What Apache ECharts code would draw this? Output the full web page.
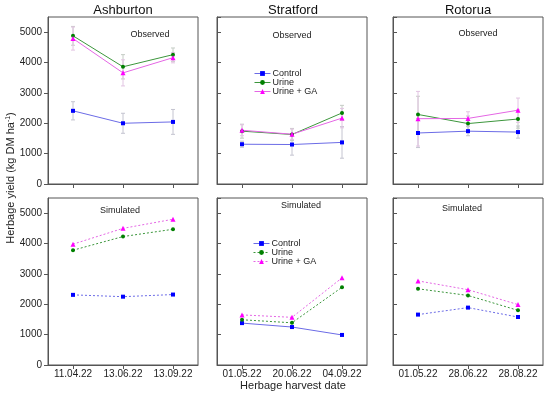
<!DOCTYPE html>
<html><head><meta charset="utf-8">
<script src="https://cdn.jsdelivr.net/npm/echarts@6/dist/echarts.min.js"></script>
<style>html,body{margin:0;padding:0;background:#fff}#c{width:550px;height:393px}</style>
</head><body><div id="c"></div>
<script>
// ---- data ----
var sites = ['Ashburton', 'Stratford', 'Rotorua'];
var ashCats = ['11.04.22', '13.06.22', '13.09.22'];
var strCats = ['01.05.22', '20.06.22', '04.09.22'];
var rotCats = ['01.05.22', '28.06.22', '28.08.22'];
var yTicks = [0, 1000, 2000, 3000, 4000, 5000];
var seriesNames = ['Control', 'Urine', 'Urine + GA'];

// Observed (mean, error)
var ashObsControl = [2410, 2000, 2045];  var ashObsControlErr = [300, 330, 410];
var ashObsUrine   = [4880, 3860, 4260];  var ashObsUrineErr   = [310, 400, 220];
var ashObsGA      = [4790, 3660, 4160];  var ashObsGAErr      = [380, 430, 170];
var strObsControl = [1310, 1300, 1370];  var strObsControlErr = [100, 350, 520];
var strObsUrine   = [1740, 1630, 2340];  var strObsUrineErr   = [230, 200, 250];
var strObsGA      = [1770, 1640, 2170];  var strObsGAErr      = [180, 170, 320];
var rotObsControl = [1680, 1740, 1710];  var rotObsControlErr = [480, 150, 200];
var rotObsUrine   = [2290, 1990, 2140];  var rotObsUrineErr   = [600, 250, 300];
var rotObsGA      = [2150, 2160, 2430];  var rotObsGAErr      = [900, 220, 400];

// Simulated
var ashSimControl = [2310, 2250, 2320];
var ashSimUrine   = [3780, 4230, 4470];
var ashSimGA      = [3980, 4500, 4800];
var strSimControl = [1380, 1250, 990];
var strSimUrine   = [1490, 1390, 2560];
var strSimGA      = [1650, 1570, 2870];
var rotSimControl = [1660, 1890, 1580];
var rotSimUrine   = [2510, 2290, 1800];
var rotSimGA      = [2770, 2480, 1990];

// ---- styling ----
var FONT = 'Liberation Sans, Arial, sans-serif';
var markerColors = ['#0000ff', '#008000', '#ff00ff'];
var lineColors = ['#6b6be6', '#3c963c', '#e466e4'];
var errColors = ['#c4c4d0', '#c4ccc4', '#e2c4e2'];
var symbols = ['rect', 'circle', 'triangle'];
var symSizes = [4, 4, 5];

var lefts = [48, 217, 393];
var tops = [17, 198];
var W = 150, H = 167;

var grids = [], xAxes = [], yAxes = [], series = [];
var catsBySite = [ashCats, strCats, rotCats];
var obs = [[ashObsControl, ashObsUrine, ashObsGA], [strObsControl, strObsUrine, strObsGA], [rotObsControl, rotObsUrine, rotObsGA]];
var obsErr = [[ashObsControlErr, ashObsUrineErr, ashObsGAErr], [strObsControlErr, strObsUrineErr, strObsGAErr], [rotObsControlErr, rotObsUrineErr, rotObsGAErr]];
var sim = [[ashSimControl, ashSimUrine, ashSimGA], [strSimControl, strSimUrine, strSimGA], [rotSimControl, rotSimUrine, rotSimGA]];

var idx = 0;
for (var r = 0; r < 2; r++) {
  for (var s = 0; s < 3; s++) {
    grids.push({left: lefts[s], top: tops[r], width: W, height: H, show: true, borderColor: '#555', borderWidth: 1, backgroundColor: 'transparent'});
    xAxes.push({
      type: 'category', gridIndex: idx, data: catsBySite[s], boundaryGap: true,
      axisLine: {show: true, lineStyle: {color: '#555'}},
      axisTick: {show: true, alignWithLabel: true, interval: 0, length: 4, lineStyle: {color: '#555'}},
      axisLabel: {show: r === 1, interval: 0, color: '#222', fontSize: 10, fontFamily: FONT, margin: 4}
    });
    yAxes.push({
      type: 'value', gridIndex: idx, min: 0, max: 5500, interval: 1000,
      splitLine: {show: false},
      axisLine: {show: true, lineStyle: {color: '#555'}},
      axisTick: {show: true, inside: s !== 0, length: 4, lineStyle: {color: '#555'}},
      axisLabel: {show: s === 0, showMaxLabel: false, color: '#222', fontSize: 10, fontFamily: FONT, margin: 6,
        formatter: function (v) { return yTicks.indexOf(v) >= 0 ? String(v) : ''; }}
    });
    for (var k = 0; k < 3; k++) {
      var vals = r === 0 ? obs[s][k] : sim[s][k];
      var ltype = r === 0 ? 'solid' : ((s === 1 && k === 0) ? 'solid' : 'dotted');
      if (r === 0) {
        (function (vals, errs, col) {
          series.push({
            type: 'custom', xAxisIndex: idx, yAxisIndex: idx, silent: true, z: 1,
            data: vals.map(function (v, i) { return [i, v - errs[i], v + errs[i]]; }),
            renderItem: function (params, api) {
              var lo = api.coord([api.value(0), api.value(1)]);
              var hi = api.coord([api.value(0), api.value(2)]);
              var c = 2;
              var st = {stroke: col, lineWidth: 1};
              return {type: 'group', children: [
                {type: 'line', shape: {x1: lo[0], y1: lo[1], x2: hi[0], y2: hi[1]}, style: st},
                {type: 'line', shape: {x1: lo[0] - c, y1: lo[1], x2: lo[0] + c, y2: lo[1]}, style: st},
                {type: 'line', shape: {x1: hi[0] - c, y1: hi[1], x2: hi[0] + c, y2: hi[1]}, style: st}
              ]};
            }
          });
        })(vals, obsErr[s][k], errColors[k]);
      }
      series.push({
        name: seriesNames[k], type: 'line', xAxisIndex: idx, yAxisIndex: idx, data: vals,
        symbol: symbols[k], symbolSize: symSizes[k], z: 3,
        itemStyle: {color: markerColors[k]},
        lineStyle: {color: lineColors[k], width: 1, type: ltype === 'dotted' ? [2, 2] : 'solid'},
        animation: false
      });
    }
    idx++;
  }
}

function legendItem(k, dashed) {
  return {name: seriesNames[k],
    itemStyle: {color: markerColors[k]},
    lineStyle: {color: lineColors[k], width: 1, type: dashed ? [2, 2] : 'solid'}};
}

var graphics = [];
var titleX = [123, 293, 468];
for (var s2 = 0; s2 < 3; s2++) {
  graphics.push({type: 'text', x: titleX[s2], y: 10, style: {text: sites[s2], fill: '#111', font: '13px ' + FONT, align: 'center', verticalAlign: 'middle'}});
}
var obsX = [150, 292, 478], obsY = [35, 36, 34];
var simX = [120, 301, 462], simY = [211, 206, 209];
for (var s3 = 0; s3 < 3; s3++) {
  graphics.push({type: 'text', x: obsX[s3], y: obsY[s3], style: {text: 'Observed', fill: '#222', font: '9px ' + FONT, align: 'center', verticalAlign: 'middle'}});
  graphics.push({type: 'text', x: simX[s3], y: simY[s3], style: {text: 'Simulated', fill: '#222', font: '9px ' + FONT, align: 'center', verticalAlign: 'middle'}});
}
graphics.push({type: 'text', x: 293, y: 386, style: {text: 'Herbage harvest date', fill: '#222', font: '11px ' + FONT, align: 'center', verticalAlign: 'middle'}});
graphics.push({type: 'text', x: 11, y: 178, rotation: Math.PI / 2, style: {
  rich: {n: {font: '11px ' + FONT, fill: '#222'}, sup: {font: '7px ' + FONT, fill: '#222', verticalAlign: 'top', padding: [0, 0, 6, 0]}},
  text: '{n|Herbage yield (kg DM ha}{sup|-1}{n|)}', align: 'center', verticalAlign: 'middle'}});

var legendCommon = {orient: 'vertical', itemWidth: 16, itemHeight: 6, itemGap: 0,
  textStyle: {fontSize: 9, lineHeight: 8, height: 8, fontFamily: FONT, color: '#222', padding: [0, 0, 0, -3]}, padding: 0, selectedMode: false};

var option = {
  animation: false,
  grid: grids, xAxis: xAxes, yAxis: yAxes, series: series,
  legend: [
    Object.assign({left: 254, top: 69, data: [legendItem(0, false), legendItem(1, false), legendItem(2, false)]}, legendCommon),
    Object.assign({left: 253, top: 239, data: [legendItem(0, false), legendItem(1, true), legendItem(2, true)]}, legendCommon)
  ],
  graphic: graphics
};
var chart = echarts.init(document.getElementById('c'), null, {renderer: 'canvas'});
chart.setOption(option);
</script></body></html>
